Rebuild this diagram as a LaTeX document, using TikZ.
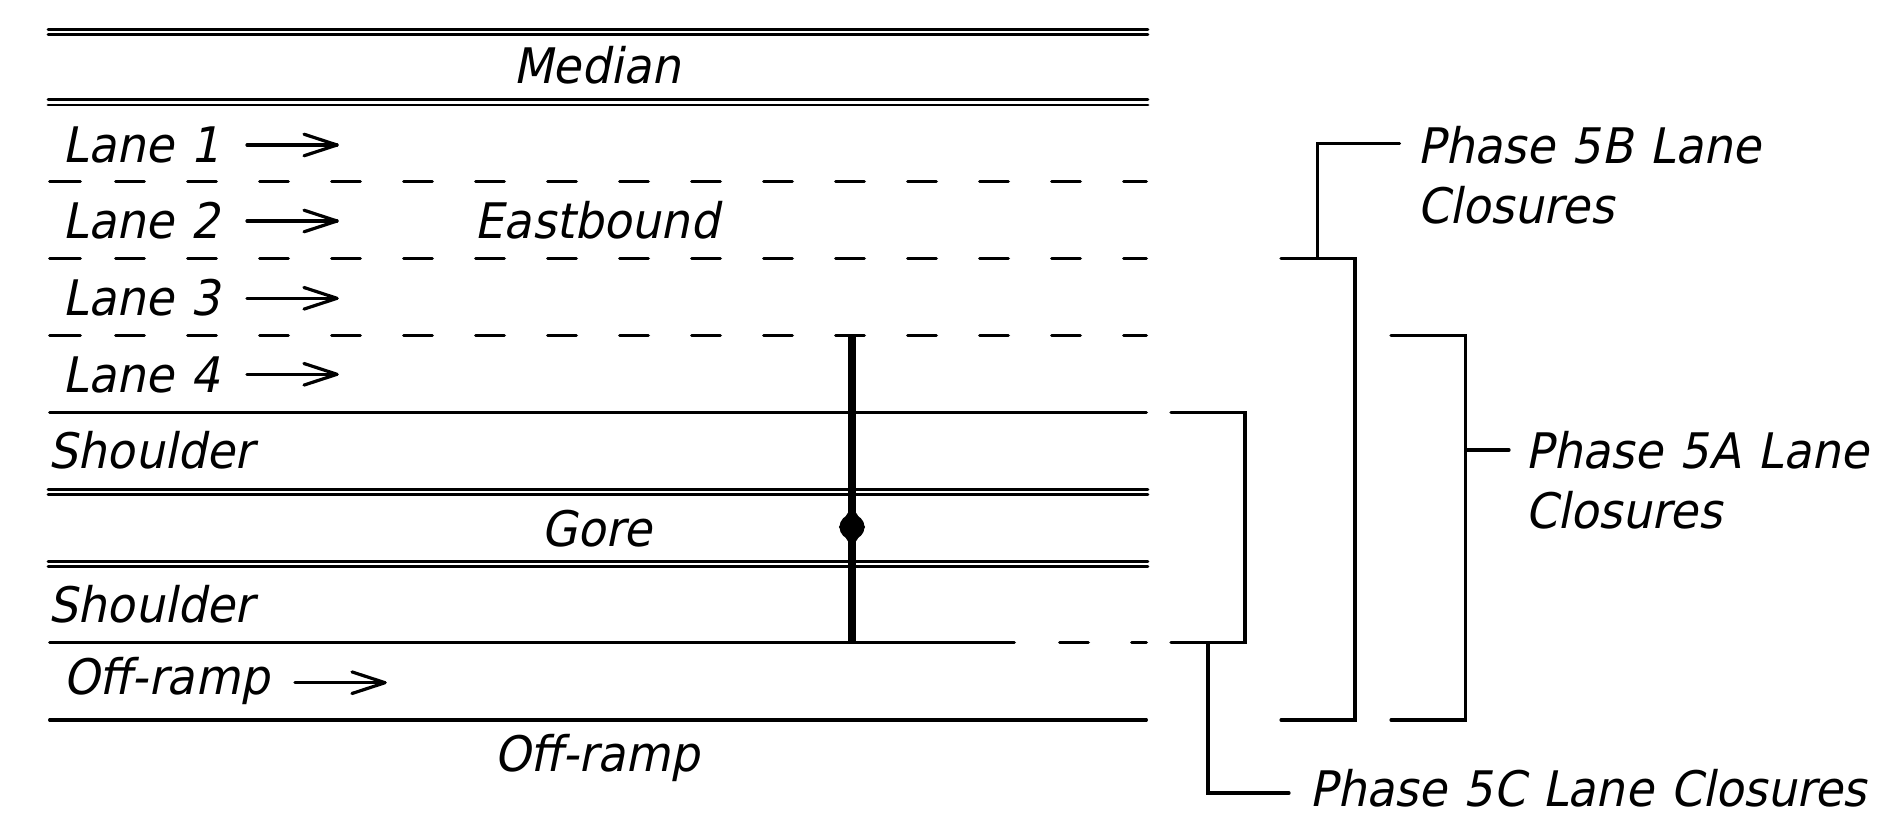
\documentclass[tikz,border=0pt]{standalone}
\usepackage{fontspec}
\newfontfamily\cadfont{DejaVu Sans}[FakeSlant=0.2,FakeStretch=0.94,WordSpace=1.15]
\begin{document}
\begin{tikzpicture}[x=0.5pt,y=-0.5pt,
  road/.style={line width=1.6pt, line cap=round},
  dblline/.style={line width=1.4pt, line cap=round},
  brk/.style={line width=1.6pt, line cap=round, line join=miter},
  bar/.style={line width=3.6pt},
  lbl/.style={font=\cadfont\fontsize{24.5}{28}\selectfont, inner sep=0pt, text depth=0pt, anchor=base west},
  ctr/.style={lbl, anchor=base},
  gdotstyle/.style={circle, fill=black, inner sep=0pt, minimum size=12.5pt}
]
\useasboundingbox (0,0) rectangle (1880,818);

% ---- double lines (median, gore)
\foreach \y in {29.2,34.3,99.9,105.1,489.4,494.7,561.2,566.4}
  \draw[dblline] (48,\y) -- (1148,\y);

% ---- dashed lane lines
\foreach \y in {181.7,258.3,335.7} {
  \draw[road] (49.6,\y) -- (80.4,\y);
  \foreach \k in {0,...,13}
    \draw[road] ({115.6+72*\k},\y) -- ({144.4+72*\k},\y);
  \draw[road] (1123.6,\y) -- (1146.4,\y);
}

% ---- solid lines
\draw[road] (49.6,412.3) -- (1146.4,412.3);
\draw[road] (49.6,642.7) -- (1014.4,642.7);
\draw[road] (1059.6,642.7) -- (1088.4,642.7);
\draw[road] (1131.6,642.7) -- (1146.4,642.7);
\draw[road] (49.6,720) -- (1146.4,720);

% ---- labels in the roadway
\node[ctr] (median) at (597,84) {Median};
\node[lbl] (lane1) at (62,162.5) {Lane 1};
\node[lbl] (lane2) at (62,239) {Lane 2};
\node[ctr] (eastb) at (597,239) {Eastbound};
\node[lbl] (lane3) at (62,315.5) {Lane 3};
\node[lbl] (lane4) at (62,392.5) {Lane 4};
\node[lbl] (sh1) at (48,468.5) {Shoulder};
\node[ctr] (gore) at (597,546) {Gore};
\node[lbl] (sh2) at (48,622.5) {Shoulder};
\node[lbl] (offr) at (63,694) {Off-ramp};
\node[ctr] (offrb) at (597,771) {Off-ramp};

% ---- direction arrows
\foreach \n/\xa/\xb/\y in {1/247/337/145, 2/247/337/221, 3/247/337/298.3, 4/247/337/374.3, 5/295/385/682.7} {
  \coordinate (as\n) at (\xa,\y);
  \coordinate (ae\n) at (\xb,\y);
  \draw[road] (as\n) -- (ae\n);
  \draw[road, line join=round] (ae\n) ++(-33,-10.8) -- (ae\n) -- ++(-33,10.8);
}

% ---- thick marker bar with dot
\coordinate (bartop) at (852,335.7);
\coordinate (barbot) at (852,642.7);
\draw[bar] (bartop) -- (barbot);
\node[gdotstyle] (gdot) at (852,527) {};
\fill (gdot.center) ++(-3.6,-15) -- ++(7.2,0) -- ++(9.5,15) -- ++(-9.5,15) -- ++(-7.2,0) -- ++(-9.5,-15) -- cycle;

% ---- Phase 5C bracket
\coordinate (c1) at (1171,412.3);
\coordinate (c2) at (1245,412.3);
\coordinate (c3) at (1245,642.7);
\coordinate (c4) at (1171,642.7);
\coordinate (c5) at (1208,642.7);
\coordinate (c6) at (1208,793);
\coordinate (c7) at (1289,793);
\draw[brk] (c1) -- (c2) -- (c3) -- (c4);
\draw[brk] (c5) -- (c6) -- (c7);
\node[lbl] (p5c) at (1309,806) {Phase 5C Lane Closures};

% ---- Phase 5B bracket
\coordinate (b1) at (1281,258.3);
\coordinate (b2) at (1355,258.3);
\coordinate (b3) at (1355,720);
\coordinate (b4) at (1281,720);
\coordinate (b5) at (1317.5,258.3);
\coordinate (b6) at (1317.5,143.3);
\coordinate (b7) at (1399.5,143.3);
\draw[brk] (b1) -- (b2) -- (b3) -- (b4);
\draw[brk] (b5) -- (b6) -- (b7);
\node[lbl] (p5b1) at (1417,163.5) {Phase 5B Lane};
\node[lbl] (p5b2) at (1417,223.5) {Closures};

% ---- Phase 5A bracket
\coordinate (a1) at (1391,335.7);
\coordinate (a2) at (1465.7,335.7);
\coordinate (a3) at (1465.7,720);
\coordinate (a4) at (1391,720);
\coordinate (a5) at (1465.7,450);
\coordinate (a6) at (1509,450);
\draw[brk] (a1) -- (a2) -- (a3) -- (a4);
\draw[brk] (a5) -- (a6);
\node[lbl] (p5a1) at (1525,468.5) {Phase 5A Lane};
\node[lbl] (p5a2) at (1525,528.5) {Closures};
\end{tikzpicture}
\end{document}
